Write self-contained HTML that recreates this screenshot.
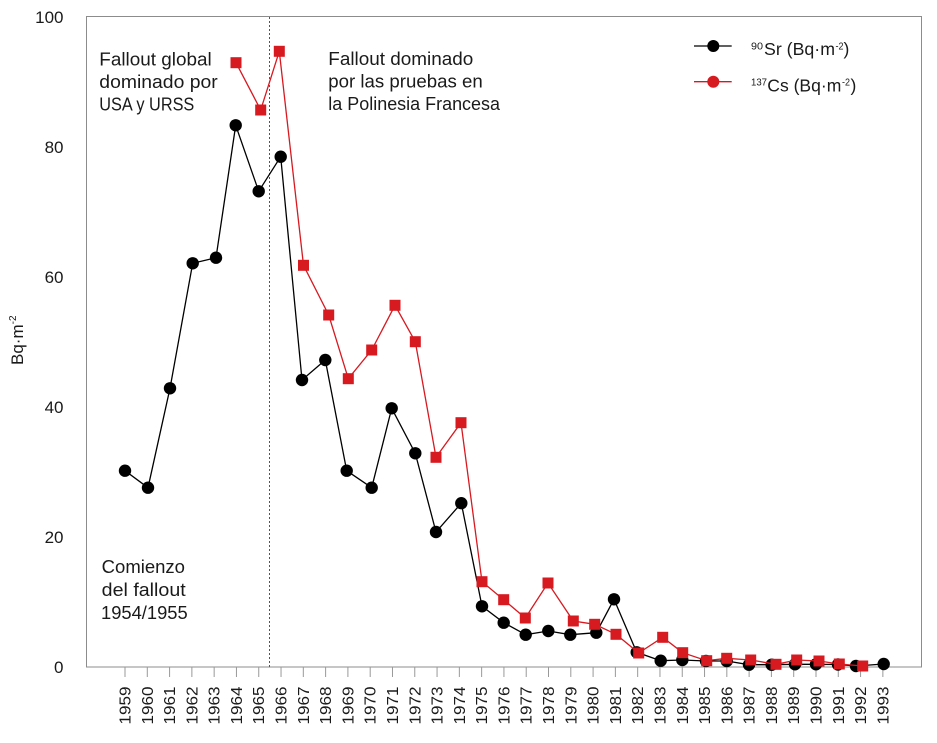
<!DOCTYPE html>
<html><head><meta charset="utf-8"><style>
html,body{margin:0;padding:0;background:#fff;}
svg{display:block;font-family:"Liberation Sans",sans-serif;}
</style></head><body>
<svg width="937" height="743" viewBox="0 0 937 743" xmlns="http://www.w3.org/2000/svg">
<rect x="0" y="0" width="937" height="743" fill="#fff"/>
<!-- frame -->
<rect x="86.5" y="16.5" width="835" height="650.5" fill="none" stroke="#8c8c8c" stroke-width="1"/>
<!-- dotted divider -->
<line x1="269.5" y1="17" x2="269.5" y2="667" stroke="#555" stroke-width="1" stroke-dasharray="2,2"/>
<!-- y labels -->
<g font-size="17" fill="#1a1a1a" text-anchor="end">
<text x="63.5" y="23">100</text>
<text x="63.5" y="153">80</text>
<text x="63.5" y="283">60</text>
<text x="63.5" y="413">40</text>
<text x="63.5" y="543">20</text>
<text x="63.5" y="673">0</text>
</g>
<text transform="translate(23,365) rotate(-90)" font-size="17" fill="#1a1a1a">Bq·m<tspan font-size="10" dy="-7">-2</tspan></text>
<!-- x ticks & labels -->
<g stroke="#999" stroke-width="1">
<line x1="125" y1="667" x2="125" y2="677"/><line x1="147.29" y1="667" x2="147.29" y2="677"/><line x1="169.58" y1="667" x2="169.58" y2="677"/><line x1="191.87" y1="667" x2="191.87" y2="677"/><line x1="214.16" y1="667" x2="214.16" y2="677"/><line x1="236.45" y1="667" x2="236.45" y2="677"/><line x1="258.74" y1="667" x2="258.74" y2="677"/><line x1="281.03" y1="667" x2="281.03" y2="677"/><line x1="303.32" y1="667" x2="303.32" y2="677"/><line x1="325.61" y1="667" x2="325.61" y2="677"/><line x1="347.9" y1="667" x2="347.9" y2="677"/><line x1="370.19" y1="667" x2="370.19" y2="677"/><line x1="392.48" y1="667" x2="392.48" y2="677"/><line x1="414.77" y1="667" x2="414.77" y2="677"/><line x1="437.06" y1="667" x2="437.06" y2="677"/><line x1="459.35" y1="667" x2="459.35" y2="677"/><line x1="481.64" y1="667" x2="481.64" y2="677"/><line x1="503.93" y1="667" x2="503.93" y2="677"/><line x1="526.22" y1="667" x2="526.22" y2="677"/><line x1="548.51" y1="667" x2="548.51" y2="677"/><line x1="570.8" y1="667" x2="570.8" y2="677"/><line x1="593.09" y1="667" x2="593.09" y2="677"/><line x1="615.38" y1="667" x2="615.38" y2="677"/><line x1="637.67" y1="667" x2="637.67" y2="677"/><line x1="659.96" y1="667" x2="659.96" y2="677"/><line x1="682.25" y1="667" x2="682.25" y2="677"/><line x1="704.54" y1="667" x2="704.54" y2="677"/><line x1="726.83" y1="667" x2="726.83" y2="677"/><line x1="749.12" y1="667" x2="749.12" y2="677"/><line x1="771.41" y1="667" x2="771.41" y2="677"/><line x1="793.7" y1="667" x2="793.7" y2="677"/><line x1="815.99" y1="667" x2="815.99" y2="677"/><line x1="838.28" y1="667" x2="838.28" y2="677"/><line x1="860.57" y1="667" x2="860.57" y2="677"/><line x1="882.86" y1="667" x2="882.86" y2="677"/>
</g>
<g font-size="16" fill="#1a1a1a" text-anchor="end">
<text transform="translate(130.5,686.5) rotate(-90)" textLength="38" lengthAdjust="spacingAndGlyphs">1959</text>
<text transform="translate(152.79,686.5) rotate(-90)" textLength="38" lengthAdjust="spacingAndGlyphs">1960</text>
<text transform="translate(175.08,686.5) rotate(-90)" textLength="38" lengthAdjust="spacingAndGlyphs">1961</text>
<text transform="translate(197.37,686.5) rotate(-90)" textLength="38" lengthAdjust="spacingAndGlyphs">1962</text>
<text transform="translate(219.66,686.5) rotate(-90)" textLength="38" lengthAdjust="spacingAndGlyphs">1963</text>
<text transform="translate(241.95,686.5) rotate(-90)" textLength="38" lengthAdjust="spacingAndGlyphs">1964</text>
<text transform="translate(264.24,686.5) rotate(-90)" textLength="38" lengthAdjust="spacingAndGlyphs">1965</text>
<text transform="translate(286.53,686.5) rotate(-90)" textLength="38" lengthAdjust="spacingAndGlyphs">1966</text>
<text transform="translate(308.82,686.5) rotate(-90)" textLength="38" lengthAdjust="spacingAndGlyphs">1967</text>
<text transform="translate(331.11,686.5) rotate(-90)" textLength="38" lengthAdjust="spacingAndGlyphs">1968</text>
<text transform="translate(353.4,686.5) rotate(-90)" textLength="38" lengthAdjust="spacingAndGlyphs">1969</text>
<text transform="translate(375.69,686.5) rotate(-90)" textLength="38" lengthAdjust="spacingAndGlyphs">1970</text>
<text transform="translate(397.98,686.5) rotate(-90)" textLength="38" lengthAdjust="spacingAndGlyphs">1971</text>
<text transform="translate(420.27,686.5) rotate(-90)" textLength="38" lengthAdjust="spacingAndGlyphs">1972</text>
<text transform="translate(442.56,686.5) rotate(-90)" textLength="38" lengthAdjust="spacingAndGlyphs">1973</text>
<text transform="translate(464.85,686.5) rotate(-90)" textLength="38" lengthAdjust="spacingAndGlyphs">1974</text>
<text transform="translate(487.14,686.5) rotate(-90)" textLength="38" lengthAdjust="spacingAndGlyphs">1975</text>
<text transform="translate(509.43,686.5) rotate(-90)" textLength="38" lengthAdjust="spacingAndGlyphs">1976</text>
<text transform="translate(531.72,686.5) rotate(-90)" textLength="38" lengthAdjust="spacingAndGlyphs">1977</text>
<text transform="translate(554.01,686.5) rotate(-90)" textLength="38" lengthAdjust="spacingAndGlyphs">1978</text>
<text transform="translate(576.3,686.5) rotate(-90)" textLength="38" lengthAdjust="spacingAndGlyphs">1979</text>
<text transform="translate(598.59,686.5) rotate(-90)" textLength="38" lengthAdjust="spacingAndGlyphs">1980</text>
<text transform="translate(620.88,686.5) rotate(-90)" textLength="38" lengthAdjust="spacingAndGlyphs">1981</text>
<text transform="translate(643.17,686.5) rotate(-90)" textLength="38" lengthAdjust="spacingAndGlyphs">1982</text>
<text transform="translate(665.46,686.5) rotate(-90)" textLength="38" lengthAdjust="spacingAndGlyphs">1983</text>
<text transform="translate(687.75,686.5) rotate(-90)" textLength="38" lengthAdjust="spacingAndGlyphs">1984</text>
<text transform="translate(710.04,686.5) rotate(-90)" textLength="38" lengthAdjust="spacingAndGlyphs">1985</text>
<text transform="translate(732.33,686.5) rotate(-90)" textLength="38" lengthAdjust="spacingAndGlyphs">1986</text>
<text transform="translate(754.62,686.5) rotate(-90)" textLength="38" lengthAdjust="spacingAndGlyphs">1987</text>
<text transform="translate(776.91,686.5) rotate(-90)" textLength="38" lengthAdjust="spacingAndGlyphs">1988</text>
<text transform="translate(799.2,686.5) rotate(-90)" textLength="38" lengthAdjust="spacingAndGlyphs">1989</text>
<text transform="translate(821.49,686.5) rotate(-90)" textLength="38" lengthAdjust="spacingAndGlyphs">1990</text>
<text transform="translate(843.78,686.5) rotate(-90)" textLength="38" lengthAdjust="spacingAndGlyphs">1991</text>
<text transform="translate(866.07,686.5) rotate(-90)" textLength="38" lengthAdjust="spacingAndGlyphs">1992</text>
<text transform="translate(888.36,686.5) rotate(-90)" textLength="38" lengthAdjust="spacingAndGlyphs">1993</text>
</g>
<!-- annotations -->
<g font-size="18" fill="#1a1a1a">
<text x="99.3" y="65.5" textLength="112.4" lengthAdjust="spacingAndGlyphs">Fallout global</text>
<text x="99.3" y="88" textLength="118.4" lengthAdjust="spacingAndGlyphs">dominado por</text>
<text x="99.3" y="110.5" textLength="95" lengthAdjust="spacingAndGlyphs">USA y URSS</text>
<text x="328.3" y="65" textLength="145" lengthAdjust="spacingAndGlyphs">Fallout dominado</text>
<text x="328.3" y="87.5" textLength="154.4" lengthAdjust="spacingAndGlyphs">por las pruebas en</text>
<text x="328.3" y="110" textLength="171.7" lengthAdjust="spacingAndGlyphs">la Polinesia Francesa</text>
<text x="101.7" y="573" textLength="83.3" lengthAdjust="spacingAndGlyphs">Comienzo</text>
<text x="101.7" y="596" textLength="84" lengthAdjust="spacingAndGlyphs">del fallout</text>
<text x="101" y="619" textLength="86.7" lengthAdjust="spacingAndGlyphs">1954/1955</text>
</g>
<!-- Sr series -->
<polyline fill="none" stroke="#000" stroke-width="1.3" points="125,470.7 148,487.7 170,388.3 192.7,263.3 216,257.7 235.7,125.3 258.7,191.3 280.7,156.7 302,380 325.3,360 346.7,470.7 371.7,487.7 391.7,408.3 415.3,453.3 436,532 461.3,503.2 482,606.3 503.7,622.7 525.7,634.7 548.3,631 570.3,634.7 596.3,632.7 614,599.3 636.7,652.3 660.7,660.7 682.3,660 706,661 726.7,661 749,664.7 771.7,664.7 795,664.3 816,664.3 838,664.5 856,666 883.7,664"/>
<g fill="#000">
<circle cx="125" cy="470.7" r="6.2"/><circle cx="148" cy="487.7" r="6.2"/><circle cx="170" cy="388.3" r="6.2"/><circle cx="192.7" cy="263.3" r="6.2"/><circle cx="216" cy="257.7" r="6.2"/><circle cx="235.7" cy="125.3" r="6.2"/><circle cx="258.7" cy="191.3" r="6.2"/><circle cx="280.7" cy="156.7" r="6.2"/><circle cx="302" cy="380" r="6.2"/><circle cx="325.3" cy="360" r="6.2"/><circle cx="346.7" cy="470.7" r="6.2"/><circle cx="371.7" cy="487.7" r="6.2"/><circle cx="391.7" cy="408.3" r="6.2"/><circle cx="415.3" cy="453.3" r="6.2"/><circle cx="436" cy="532" r="6.2"/><circle cx="461.3" cy="503.2" r="6.2"/><circle cx="482" cy="606.3" r="6.2"/><circle cx="503.7" cy="622.7" r="6.2"/><circle cx="525.7" cy="634.7" r="6.2"/><circle cx="548.3" cy="631" r="6.2"/><circle cx="570.3" cy="634.7" r="6.2"/><circle cx="596.3" cy="632.7" r="6.2"/><circle cx="614" cy="599.3" r="6.2"/><circle cx="636.7" cy="652.3" r="6.2"/><circle cx="660.7" cy="660.7" r="6.2"/><circle cx="682.3" cy="660" r="6.2"/><circle cx="706" cy="661" r="6.2"/><circle cx="726.7" cy="661" r="6.2"/><circle cx="749" cy="664.7" r="6.2"/><circle cx="771.7" cy="664.7" r="6.2"/><circle cx="795" cy="664.3" r="6.2"/><circle cx="816" cy="664.3" r="6.2"/><circle cx="838" cy="664.5" r="6.2"/><circle cx="856" cy="666" r="6.2"/><circle cx="883.7" cy="664" r="6.2"/>
</g>
<!-- Cs series -->
<polyline fill="none" stroke="#d71920" stroke-width="1.3" points="236,62.7 260.7,110 279.3,51.3 303.5,265.3 328.7,315 348.3,378.7 371.7,350 395,305.3 415.3,341.7 436,457.3 461,422.7 482,581.7 503.7,599.7 525.3,618 548,583 573.3,621 594.7,624.3 616,634.3 638.7,653 662.7,637.3 682.7,652.7 706.7,660.7 726.7,658.3 750.7,660 776,664.3 796.7,660 819,661 839.3,664 862.7,666"/>
<g fill="#d71920">
<rect x="230.5" y="57.2" width="11" height="11"/><rect x="255.2" y="104.5" width="11" height="11"/><rect x="273.8" y="45.8" width="11" height="11"/><rect x="298" y="259.8" width="11" height="11"/><rect x="323.2" y="309.5" width="11" height="11"/><rect x="342.8" y="373.2" width="11" height="11"/><rect x="366.2" y="344.5" width="11" height="11"/><rect x="389.5" y="299.8" width="11" height="11"/><rect x="409.8" y="336.2" width="11" height="11"/><rect x="430.5" y="451.8" width="11" height="11"/><rect x="455.5" y="417.2" width="11" height="11"/><rect x="476.5" y="576.2" width="11" height="11"/><rect x="498.2" y="594.2" width="11" height="11"/><rect x="519.8" y="612.5" width="11" height="11"/><rect x="542.5" y="577.5" width="11" height="11"/><rect x="567.8" y="615.5" width="11" height="11"/><rect x="589.2" y="618.8" width="11" height="11"/><rect x="610.5" y="628.8" width="11" height="11"/><rect x="633.2" y="647.5" width="11" height="11"/><rect x="657.2" y="631.8" width="11" height="11"/><rect x="677.2" y="647.2" width="11" height="11"/><rect x="701.2" y="655.2" width="11" height="11"/><rect x="721.2" y="652.8" width="11" height="11"/><rect x="745.2" y="654.5" width="11" height="11"/><rect x="770.5" y="658.8" width="11" height="11"/><rect x="791.2" y="654.5" width="11" height="11"/><rect x="813.5" y="655.5" width="11" height="11"/><rect x="833.8" y="658.5" width="11" height="11"/><rect x="857.2" y="660.5" width="11" height="11"/>
</g>
<!-- legend -->
<line x1="694" y1="46" x2="731.7" y2="46" stroke="#000" stroke-width="1.3"/>
<circle cx="713.3" cy="46" r="6" fill="#000"/>
<line x1="694" y1="81.7" x2="731.7" y2="81.7" stroke="#d71920" stroke-width="1.3"/>
<circle cx="713.3" cy="81.7" r="6" fill="#d71920"/>
<g fill="#1a1a1a">
<text x="751" y="49.3" font-size="10" textLength="12" lengthAdjust="spacingAndGlyphs">90</text>
<text x="764" y="55" font-size="17.5" textLength="71" lengthAdjust="spacingAndGlyphs">Sr (Bq·m</text>
<text x="835.5" y="49.3" font-size="10" textLength="8" lengthAdjust="spacingAndGlyphs">-2</text>
<text x="843.5" y="55" font-size="17.5">)</text>
<text x="751" y="85.5" font-size="10" textLength="16" lengthAdjust="spacingAndGlyphs">137</text>
<text x="767.3" y="91.5" font-size="17.5" textLength="74" lengthAdjust="spacingAndGlyphs">Cs (Bq·m</text>
<text x="842" y="85.5" font-size="10" textLength="8" lengthAdjust="spacingAndGlyphs">-2</text>
<text x="850.5" y="91.5" font-size="17.5">)</text>
</g>
</svg>
</body></html>
